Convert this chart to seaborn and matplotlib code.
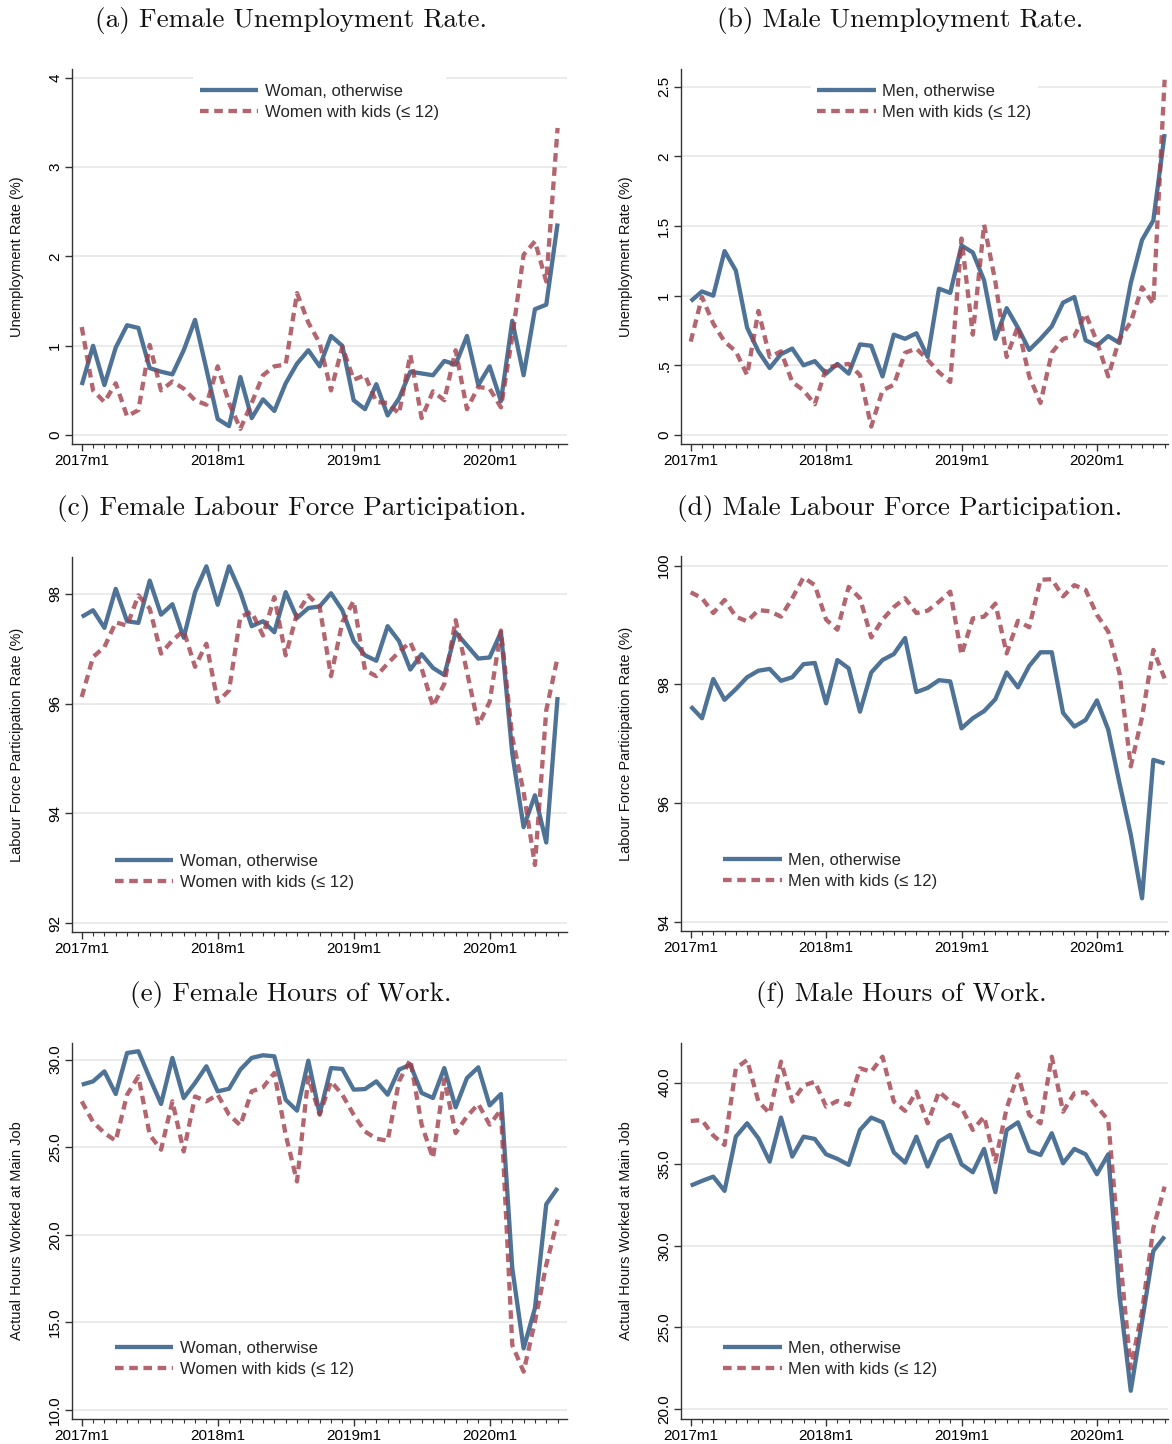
import numpy as np
import pandas as pd
import matplotlib
matplotlib.use("Agg")
import matplotlib.pyplot as plt
from matplotlib.lines import Line2D
from matplotlib.ticker import FixedLocator, FuncFormatter
import seaborn as sns

# ---------------- data (monthly, 2017m1 .. 2020m7) ----------------
month_labels = ["2017m1", "2018m1", "2019m1", "2020m1"]
n_months = 43

fem_unemp_other = [0.56, 1.00, 0.56, 0.98, 1.23, 1.20, 0.75, 0.71, 0.68, 0.95, 1.29, 0.74, 0.18, 0.10, 0.65, 0.19, 0.40, 0.27, 0.58, 0.80,
                   0.95, 0.77, 1.11, 1.00, 0.39, 0.29, 0.57, 0.22, 0.41, 0.71, 0.69, 0.67, 0.83, 0.79, 1.11, 0.56, 0.77, 0.38, 1.28, 0.67,
                   1.41, 1.46, 2.37]
fem_unemp_kids = [1.21, 0.50, 0.37, 0.58, 0.21, 0.28, 1.01, 0.50, 0.60, 0.52, 0.39, 0.34, 0.77, 0.36, 0.07, 0.36, 0.67, 0.77, 0.79, 1.59,
                  1.26, 1.03, 0.50, 0.99, 0.62, 0.67, 0.37, 0.36, 0.24, 0.90, 0.19, 0.49, 0.39, 0.95, 0.29, 0.54, 0.52, 0.31, 1.10, 2.02,
                  2.17, 1.72, 3.44]
male_unemp_other = [0.96, 1.03, 1.00, 1.32, 1.18, 0.77, 0.60, 0.48, 0.58, 0.62, 0.50, 0.53, 0.44, 0.51, 0.44, 0.65, 0.64, 0.42, 0.72, 0.69,
                    0.73, 0.56, 1.05, 1.02, 1.36, 1.31, 1.11, 0.69, 0.91, 0.77, 0.61, 0.69, 0.78, 0.95, 0.99, 0.68, 0.64, 0.71, 0.66, 1.09,
                    1.40, 1.54, 2.16]
male_unemp_kids = [0.67, 0.99, 0.80, 0.67, 0.60, 0.43, 0.89, 0.56, 0.60, 0.38, 0.32, 0.22, 0.48, 0.50, 0.51, 0.43, 0.06, 0.32, 0.36, 0.59,
                   0.62, 0.54, 0.45, 0.38, 1.41, 0.72, 1.51, 1.10, 0.56, 0.78, 0.42, 0.23, 0.59, 0.69, 0.71, 0.87, 0.67, 0.42, 0.69, 0.81,
                   1.06, 0.94, 2.55]
fem_lfp_other = [97.58, 97.70, 97.38, 98.09, 97.50, 97.47, 98.24, 97.62, 97.81, 97.20, 98.03, 98.50, 97.80, 98.50, 98.03, 97.41, 97.50,
                 97.30, 98.03, 97.56, 97.74, 97.77, 98.01, 97.70, 97.14, 96.88, 96.78, 97.41, 97.14, 96.62, 96.90, 96.65, 96.52, 97.30,
                 97.06, 96.82, 96.84, 97.30, 95.09, 93.75, 94.33, 93.47, 96.12]
fem_lfp_kids = [96.12, 96.85, 97.03, 97.48, 97.42, 97.97, 97.73, 96.91, 97.15, 97.33, 96.67, 97.09, 96.03, 96.24, 97.58, 97.67, 97.24,
                97.94, 96.88, 97.64, 97.97, 97.76, 96.50, 97.48, 97.87, 96.61, 96.50, 96.73, 96.94, 97.12, 96.64, 95.95, 96.36, 97.52,
                96.58, 95.61, 96.03, 97.33, 95.39, 94.39, 93.06, 95.88, 96.84]
male_lfp_other = [97.63, 97.43, 98.09, 97.74, 97.92, 98.12, 98.23, 98.26, 98.06, 98.12, 98.34, 98.36, 97.68, 98.41, 98.27, 97.54, 98.20,
                  98.41, 98.51, 98.78, 97.87, 97.94, 98.07, 98.05, 97.26, 97.43, 97.55, 97.75, 98.20, 97.95, 98.31, 98.54, 98.54, 97.52,
                  97.29, 97.40, 97.73, 97.24, 96.34, 95.47, 94.40, 96.73, 96.67]
male_lfp_kids = [99.55, 99.45, 99.20, 99.42, 99.14, 99.06, 99.25, 99.23, 99.14, 99.45, 99.80, 99.67, 99.09, 98.92, 99.64, 99.45, 98.79,
                 99.09, 99.30, 99.45, 99.20, 99.24, 99.39, 99.56, 98.50, 99.11, 99.14, 99.36, 98.52, 99.07, 98.96, 99.76, 99.77, 99.48,
                 99.67, 99.59, 99.17, 98.89, 98.19, 96.62, 97.45, 98.58, 98.10]
fem_hours_other = [28.57, 28.76, 29.33, 28.04, 30.38, 30.48, 28.95, 27.47, 30.10, 27.81, 28.67, 29.62, 28.19, 28.34, 29.43, 30.10, 30.25,
                   30.19, 27.71, 27.09, 29.94, 26.90, 29.52, 29.47, 28.29, 28.32, 28.76, 28.00, 29.43, 29.71, 28.10, 27.81, 29.52, 27.28,
                   28.95, 29.56, 27.39, 28.04, 18.10, 13.52, 15.81, 21.75, 22.67]
fem_hours_kids = [27.62, 26.44, 25.81, 25.37, 28.00, 29.05, 25.71, 24.86, 27.62, 24.76, 27.90, 27.62, 28.00, 26.86, 26.25, 28.19, 28.42,
                  29.24, 25.71, 23.05, 28.99, 26.86, 28.76, 28.00, 26.86, 25.90, 25.49, 25.37, 28.76, 30.00, 26.29, 24.38, 28.86, 25.81,
                  26.76, 27.47, 26.29, 27.14, 13.71, 12.19, 15.05, 18.29, 20.86]
male_hours_other = [33.69, 33.98, 34.24, 33.37, 36.69, 37.51, 36.59, 35.16, 37.86, 35.47, 36.69, 36.55, 35.61, 35.33, 34.96, 37.10, 37.86,
                    37.57, 35.73, 35.10, 36.69, 34.86, 36.39, 36.80, 35.00, 34.51, 35.94, 33.29, 37.10, 37.57, 35.82, 35.57, 36.90, 35.06,
                    35.94, 35.61, 34.39, 35.61, 27.00, 21.12, 25.37, 29.69, 30.57]
male_hours_kids = [37.65, 37.71, 36.76, 36.18, 40.88, 41.39, 38.84, 38.12, 41.29, 38.84, 39.82, 40.06, 38.53, 38.88, 38.63, 40.88, 40.67,
                   41.59, 38.84, 38.27, 39.45, 37.51, 39.45, 38.84, 38.47, 37.10, 37.92, 35.16, 38.43, 40.51, 38.02, 37.51, 41.59, 38.22,
                   39.35, 39.41, 38.53, 37.71, 29.65, 22.51, 25.98, 31.08, 33.63]

titles = ["(a) Female Unemployment Rate.", "(b) Male Unemployment Rate.",
          "(c) Female Labour Force Participation.", "(d) Male Labour Force Participation.",
          "(e) Female Hours of Work.", "(f) Male Hours of Work."]
ylabels = ["Unemployment Rate (%)", "Unemployment Rate (%)",
           "Labour Force Participation Rate (%)", "Labour Force Participation Rate (%)",
           "Actual Hours Worked at Main Job", "Actual Hours Worked at Main Job"]
fem_labels = ["Woman, otherwise", "Women with kids (\u2264 12)"]
male_labels = ["Men, otherwise", "Men with kids (\u2264 12)"]

yticks_a = [0, 1, 2, 3, 4]
yticks_b = [0, 0.5, 1, 1.5, 2, 2.5]
yticks_c = [92, 94, 96, 98]
yticks_d = [94, 96, 98, 100]
yticks_e = [10, 15, 20, 25, 30]
yticks_f = [20, 25, 30, 35, 40]

# ---------------- style ----------------
sns.set_theme(style="white")
plt.rcParams["font.family"] = ["Liberation Sans", "DejaVu Sans"]

BLUE = "#4e7396"
RED = "#a0404c"
W, H = 1172, 1444

fig = plt.figure(figsize=(W / 100, H / 100), dpi=100)
fig.patch.set_facecolor("white")


def add_ax(left, right, top, bottom):
    return fig.add_axes([left / W, 1 - bottom / H, (right - left) / W, (bottom - top) / H])


def fmt_b(v, pos):
    if v == 0:
        return "0"
    s = ("%g" % v)
    return s[1:] if s.startswith("0.") else s


panels = [
    dict(pos=(72, 567, 69, 444), other=fem_unemp_other, kids=fem_unemp_kids, labels=fem_labels,
         yt=yticks_a, ylim=(-0.10, 4.10), fmt=lambda v, p: "%d" % v, leg="top", xr=42.83),
    dict(pos=(681, 1168, 69, 444), other=male_unemp_other, kids=male_unemp_kids, labels=male_labels,
         yt=yticks_b, ylim=(-0.065, 2.627), fmt=fmt_b, leg="top", xr=42.3),
    dict(pos=(72, 567, 557, 932), other=fem_lfp_other, kids=fem_lfp_kids, labels=fem_labels,
         yt=yticks_c, ylim=(91.84, 98.67), fmt=lambda v, p: "%d" % v, leg="bottom", xr=42.83),
    dict(pos=(681, 1168, 556, 931), other=male_lfp_other, kids=male_lfp_kids, labels=male_labels,
         yt=yticks_d, ylim=(93.85, 100.16), fmt=lambda v, p: "%d" % v, leg="bottom", xr=42.3),
    dict(pos=(72, 567, 1043, 1419), other=fem_hours_other, kids=fem_hours_kids, labels=fem_labels,
         yt=yticks_e, ylim=(9.49, 30.95), fmt=lambda v, p: "%.1f" % v, leg="bottom", xr=42.83),
    dict(pos=(681, 1168, 1043, 1419), other=male_hours_other, kids=male_hours_kids, labels=male_labels,
         yt=yticks_f, ylim=(19.39, 42.43), fmt=lambda v, p: "%.1f" % v, leg="bottom", xr=42.3),
]

title_pos = [(291, 21), (900, 21), (292, 508), (900, 508), (291, 995), (901, 995)]

months = np.arange(n_months)
LW = 3.1
DASH = (2.0, 1.3)

for k, p in enumerate(panels):
    ax = add_ax(*p["pos"])
    df = pd.DataFrame({
        "t": np.concatenate([months, months]),
        "v": np.concatenate([p["other"], p["kids"]]),
        "g": [p["labels"][0]] * n_months + [p["labels"][1]] * n_months,
    })
    sns.lineplot(data=df, x="t", y="v", hue="g", style="g", ax=ax,
                 palette={p["labels"][0]: BLUE, p["labels"][1]: RED},
                 dashes={p["labels"][0]: "", p["labels"][1]: DASH},
                 linewidth=LW, legend=False, sort=False)
    for ln in ax.get_lines():
        ln.set_solid_capstyle("butt")
        ln.set_dash_capstyle("butt")
    ax.get_lines()[1].set_alpha(0.8)

    ax.set_xlim(-0.86, p["xr"])
    ax.set_ylim(*p["ylim"])
    ax.set_xlabel("")
    ax.set_ylabel(ylabels[k], fontsize=10.5, color="#111111")
    ax.yaxis.set_label_coords(-0.097 if k % 2 == 0 else -0.099, 0.5)

    ax.xaxis.set_major_locator(FixedLocator([0, 12, 24, 36]))
    ax.set_xticklabels(month_labels)
    ax.xaxis.set_minor_locator(FixedLocator(list(range(0, n_months))))
    ax.yaxis.set_major_locator(FixedLocator(p["yt"]))
    ax.yaxis.set_major_formatter(FuncFormatter(p["fmt"]))

    ax.tick_params(axis="x", which="major", direction="out", length=5, width=1, colors="#333333",
                   labelsize=11, labelcolor="black", pad=2, bottom=True)
    ax.tick_params(axis="x", which="minor", direction="out", length=3, width=0.8, colors="#333333", bottom=True)
    ax.tick_params(axis="y", which="major", direction="out", length=5, width=1, colors="#333333",
                   labelsize=11, labelcolor="black", pad=2, left=True)
    for lab in ax.get_yticklabels():
        lab.set_rotation(90)
        lab.set_va("center")

    ax.grid(axis="y", color="#e8e8e8", linewidth=1.2)
    ax.set_axisbelow(True)
    for s in ["top", "right"]:
        ax.spines[s].set_visible(False)
    for s in ["left", "bottom"]:
        ax.spines[s].set_color("#333333")
        ax.spines[s].set_linewidth(1.0)

    handles = [Line2D([], [], color=BLUE, lw=LW, solid_capstyle="butt"),
               Line2D([], [], color=RED, lw=LW, alpha=0.8, dashes=DASH, dash_capstyle="butt")]
    if p["leg"] == "top":
        leg = ax.legend(handles, p["labels"], loc="center", bbox_to_anchor=(0.5, 0.913),
                        frameon=True, fontsize=12, handlelength=3.5, handletextpad=0.4,
                        labelspacing=0.36, borderpad=0.4, borderaxespad=0)
    else:
        leg = ax.legend(handles, p["labels"], loc="center left", bbox_to_anchor=(0.077, 0.160),
                        frameon=True, fontsize=12, handlelength=3.5, handletextpad=0.4,
                        labelspacing=0.36, borderpad=0.3, borderaxespad=0)
    leg.get_frame().set_facecolor("white")
    leg.get_frame().set_edgecolor("none")
    leg.get_frame().set_alpha(1.0)
    leg.get_frame().set_boxstyle("square", pad=0)

for t, (x, y) in zip(titles, title_pos):
    fig.text(x / W, 1 - y / H, t, ha="center", va="center", fontsize=19.6, family="cmr10", color="#111111")

fig.savefig("out.png", dpi=100, facecolor="white")
